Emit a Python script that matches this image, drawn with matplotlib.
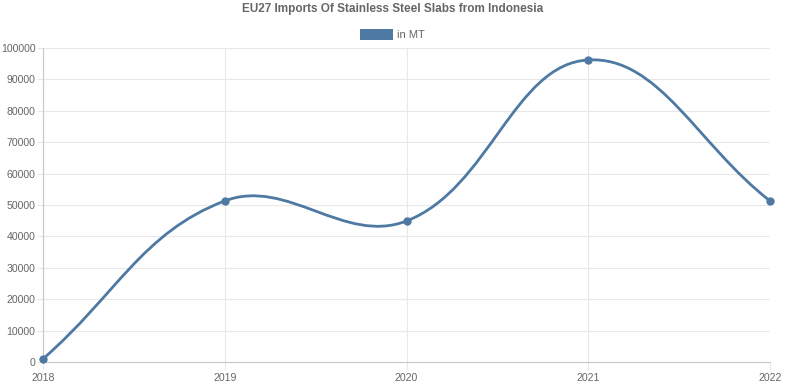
import numpy as np
import matplotlib
matplotlib.use("Agg")
import matplotlib.pyplot as plt
from matplotlib.path import Path
from matplotlib.patches import PathPatch, Rectangle

plt.rcParams['font.family'] = ['Liberation Sans', 'DejaVu Sans']

years = ['2018', '2019', '2020', '2021', '2022']
imports_mt = [1000, 51300, 44900, 96200, 51300]
series_label = 'in MT'
title = 'EU27 Imports Of Stainless Steel Slabs from Indonesia'

line_color = '#4d79a3'
grid_color = '#e8e8e8'
text_color = '#666666'


def spline_path(ax, xs, ys, tension=0.4):
    # chart.js style bezier, control points worked out in pixel space
    pts = ax.transData.transform(np.column_stack([xs, ys]))
    n = len(pts)
    verts = [pts[0]]
    codes = [Path.MOVETO]
    ctrl = []
    for i in range(n):
        prev = pts[i - 1] if i > 0 else pts[i]
        cur = pts[i]
        nxt = pts[i + 1] if i < n - 1 else pts[i]
        d01 = np.hypot(*(cur - prev))
        d12 = np.hypot(*(nxt - cur))
        tot = d01 + d12
        s01 = d01 / tot if tot else 0
        s12 = d12 / tot if tot else 0
        fa = tension * s01
        fb = tension * s12
        ctrl.append((cur - fa * (nxt - prev), cur + fb * (nxt - prev)))
    for i in range(1, n):
        verts += [ctrl[i - 1][1], ctrl[i][0], pts[i]]
        codes += [Path.CURVE4] * 3
    inv = ax.transData.inverted()
    return Path(inv.transform(np.array(verts)), codes)


fig = plt.figure(figsize=(7.86, 3.84), dpi=100)
ax = fig.add_axes([43 / 786, 1 - 362 / 384, (770 - 43) / 786, (362 - 48) / 384])

x = np.arange(len(years))
ax.set_xlim(0, len(years) - 1)
ax.set_ylim(0, 100000)
ax.set_xticks(x)
ax.set_xticklabels(years)
ax.set_yticks(np.arange(0, 100001, 10000))

ax.grid(True, color=grid_color, linewidth=0.8)
ax.set_axisbelow(True)
for side in ['top', 'right']:
    ax.spines[side].set_visible(False)
for side in ['left', 'bottom']:
    ax.spines[side].set_color('#c8c8c8')
    ax.spines[side].set_linewidth(0.8)
ax.tick_params(axis='both', colors=grid_color, labelcolor=text_color,
               labelsize=7.6, width=0.8)
ax.tick_params(axis='x', length=6, pad=2)
ax.tick_params(axis='y', length=4, pad=1.5)

path = spline_path(ax, x, imports_mt)
ax.add_patch(PathPatch(path, facecolor='none', edgecolor=line_color,
                       linewidth=2, clip_on=False, zorder=3))
ax.plot(x, imports_mt, 'o', color=line_color, markersize=5,
        clip_on=False, zorder=4)

fig.text(0.5, 1 - 9 / 384, title, ha='center', va='center',
         fontsize=8.5, fontweight='bold', color=text_color)
fig.patches.append(Rectangle((360 / 786, 1 - 40 / 384), 33 / 786, 11 / 384,
                             transform=fig.transFigure, facecolor=line_color,
                             edgecolor='none'))
fig.text(397 / 786, 1 - 34.5 / 384, series_label, ha='left', va='center',
         fontsize=8, color=text_color)

fig.savefig('out.png', dpi=100)
